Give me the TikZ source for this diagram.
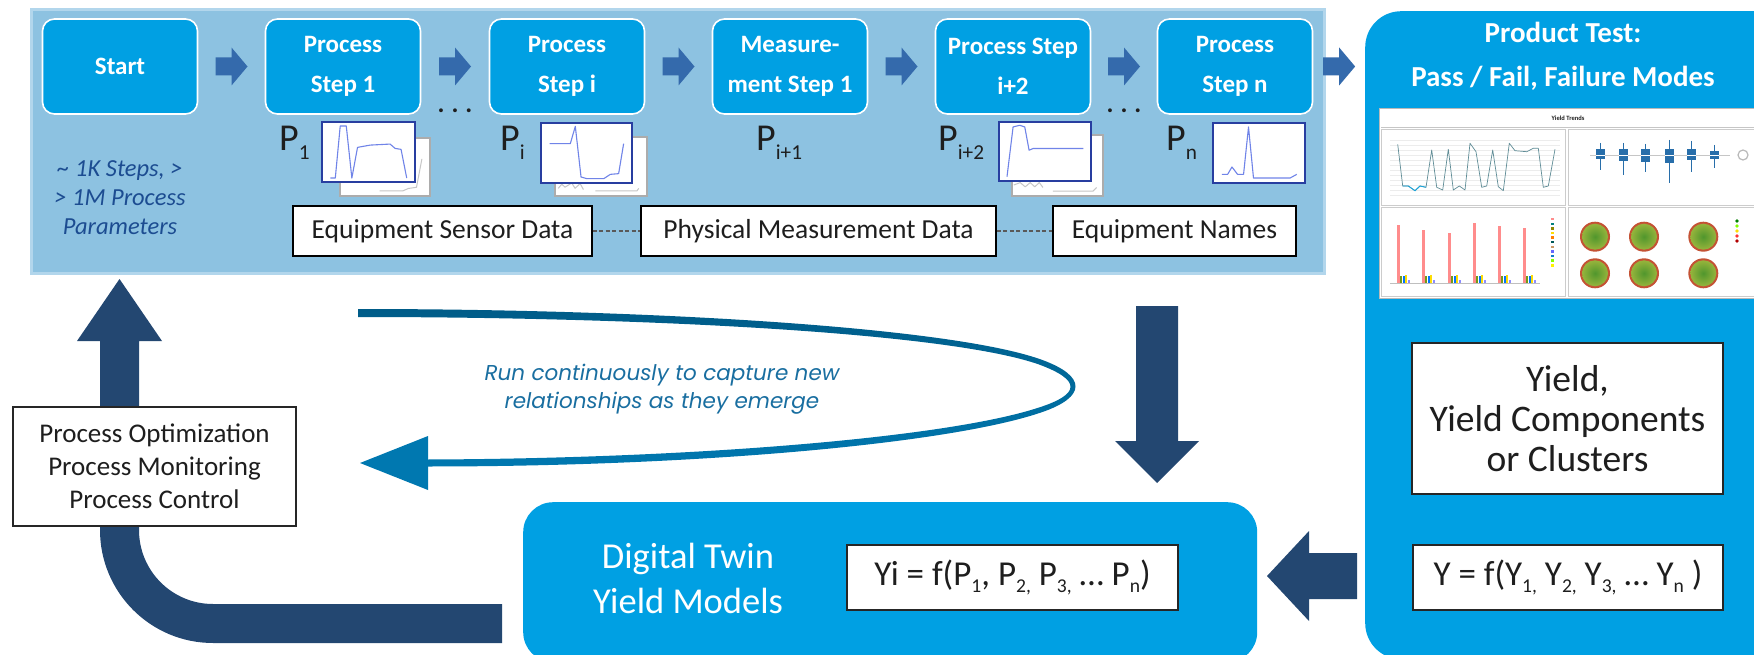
\documentclass[tikz,border=0pt]{standalone}
\usepackage{graphicx}
\usepackage{fontspec}
\setmainfont{Carlito}
\newfontfamily\loopfont{Poppins}
\usetikzlibrary{calc}

\definecolor{panelblue}{RGB}{141,194,225}
\definecolor{panelhalo}{RGB}{178,214,236}
\definecolor{stepblue}{RGB}{0,160,227}
\definecolor{arrowblue}{RGB}{52,106,172}
\definecolor{navy}{RGB}{35,71,113}
\definecolor{looptop}{RGB}{0,92,136}
\definecolor{loopbot}{RGB}{0,120,176}
\definecolor{noteblue}{RGB}{28,76,145}
\definecolor{looptext}{RGB}{25,110,160}
\definecolor{thumbedge}{RGB}{40,62,160}
\definecolor{thumbblue}{RGB}{112,132,232}
\definecolor{inkgray}{RGB}{30,30,30}
\definecolor{boxblue}{RGB}{40,110,170}
\definecolor{linegray}{RGB}{95,140,150}
\definecolor{waferrim}{RGB}{196,82,52}
\definecolor{wafercore}{RGB}{80,150,45}
\definecolor{waferedge}{RGB}{150,180,60}

\newcommand{\fsz}[2]{\fontsize{#1}{#2}\selectfont}
\newcommand{\lsub}[1]{\raisebox{-0.22em}{\scalebox{0.56}{#1}}}

\tikzset{
  stepbox/.style={draw=white, line width=1.6pt, fill=stepblue, rounded corners=12pt,
    minimum width=155pt, minimum height=95pt, inner sep=2pt, text=white, align=center,
    font=\fsz{25}{40}\bfseries},
  plabel/.style={anchor=base west, inner sep=0pt, text=inkgray, font=\fsz{38}{38}},
  thumbfront/.style={fill=white, draw=thumbedge, line width=1.6pt},
  thumbback/.style={fill=white, draw=gray!65, line width=1.4pt},
  thumbline/.style={draw=thumbblue, line width=1.1pt, line join=round},
  backline/.style={draw=gray!45, line width=1pt, line join=round},
  databox/.style={draw=black, line width=1.3pt, fill=white, minimum height=50pt,
    inner sep=0pt, font=\fsz{27.5}{30}, text=inkgray},
  wbox/.style={draw=black!85, line width=1.4pt, fill=white, align=center, inner sep=0pt,
    text=inkgray},
  dashlink/.style={draw=gray!70!black, dash pattern=on 4pt off 2.5pt, line width=1.2pt},
  bluepanel/.style={fill=stepblue, draw=none},
  rarrow/.pic={\fill[arrowblue] (-16,-9) -- (0,-9) -- (0,-19) -- (16,0) -- (0,19) -- (0,9) -- (-16,9) -- cycle;},
}

\begin{document}
\begin{tikzpicture}[x=1pt,y=-1pt]
\useasboundingbox (0,0) rectangle (1754,655);

% ---------- process flow panel ----------
\fill[panelhalo] (30,8) rectangle (1326,275);
\fill[panelblue] (33,11) rectangle (1323,272);

\node[stepbox] (s0) at (120,66.5) {Start};
\node[stepbox] (s1) at (343,66.5) {Process\\Step 1};
\node[stepbox] (s2) at (567,66.5) {Process\\Step i};
\node[stepbox] (s3) at (790,66.5) {Measure-\\ment Step 1};
\node[stepbox] (s4) at (1013,66.5) {Process Step\\i+2};
\node[stepbox] (s5) at (1235,66.5) {Process\\Step n};

\pic at ($(s0.east)!0.5!(s1.west)$) {rarrow};
\pic at ($(s1.east)!0.5!(s2.west)$) {rarrow};
\pic at ($(s2.east)!0.5!(s3.west)$) {rarrow};
\pic at ($(s3.east)!0.5!(s4.west)$) {rarrow};
\pic at ($(s4.east)!0.5!(s5.west)$) {rarrow};

\node[font=\fsz{26}{26}\bfseries, text=inkgray, inner sep=0pt] (dots1)
  at ($(s1.south east)!0.5!(s2.south west)+(0,-4)$) {.\hspace{7pt}.\hspace{7pt}.};
\node[font=\fsz{26}{26}\bfseries, text=inkgray, inner sep=0pt] (dots2)
  at ($(s4.south east)!0.5!(s5.south west)+(0,-4)$) {.\hspace{7pt}.\hspace{7pt}.};

\node[font=\fsz{24.5}{29}\itshape, text=noteblue, align=center] (scale) at (120,198)
  {\textasciitilde{} 1K Steps, >\\> 1M Process\\Parameters};

% parameter labels
\node[plabel] (p1) at (279,151) {P\lsub{1}};
\node[plabel] (pi) at (500,151) {P\lsub{i}};
\node[plabel] (pi1) at (756,151) {P\lsub{i+1}};
\node[plabel] (pi2) at (938,151) {P\lsub{i+2}};
\node[plabel] (pn) at (1166,151) {P\lsub{n}};

% sensor trace thumbnails
\draw[thumbback] (340,138) rectangle (430,196);
\begin{scope}[shift={(340,138)}, x=90pt, y=-58pt]
  \draw[backline] plot coordinates {(0.44,0.91) (0.70,0.91) (0.76,0.87) (0.85,0.85) (0.91,0.36)};
\end{scope}
\draw[thumbfront] (322,122) rectangle (415,182);
\begin{scope}[shift={(322,122)}, x=93pt, y=-60pt]
  \draw[thumbline] plot coordinates {(0.089,0.934) (0.143,0.934) (0.196,0.066) (0.261,0.066)
    (0.321,0.934) (0.382,0.423) (0.518,0.385) (0.732,0.368) (0.786,0.44) (0.85,0.456) (0.911,0.934)};
\end{scope}

\draw[thumbback] (555,137) rectangle (647,196);
\begin{scope}[shift={(555,137)}, x=92pt, y=-59pt]
  \draw[backline] plot coordinates {(0.036,0.87) (0.073,0.80) (0.109,0.85) (0.182,0.78)
    (0.218,0.87) (0.273,0.79) (0.309,0.89)};
  \draw[backline] plot coordinates {(0.44,0.915) (0.89,0.915) (0.91,0.87)};
\end{scope}
\draw[thumbfront] (541,123) rectangle (632,183);
\begin{scope}[shift={(541,123)}, x=91pt, y=-60pt]
  \draw[thumbline] plot coordinates {(0.095,0.344) (0.322,0.344) (0.377,0.056) (0.44,0.9)
    (0.505,0.928) (0.689,0.928) (0.762,0.856) (0.853,0.844) (0.908,0.344)};
\end{scope}

\draw[thumbback] (1012,135) rectangle (1103,196);
\begin{scope}[shift={(1012,135)}, x=91pt, y=-61pt]
  \draw[backline] plot coordinates {(0.02,0.82) (0.09,0.78) (0.145,0.85) (0.2,0.78)
    (0.25,0.85) (0.3,0.78) (0.34,0.86)};
  \draw[backline] plot coordinates {(0.45,0.92) (0.89,0.92) (0.93,0.86)};
\end{scope}
\draw[thumbfront] (999,122) rectangle (1091,181);
\begin{scope}[shift={(999,122)}, x=92pt, y=-59pt]
  \draw[thumbline] plot coordinates {(0.087,0.927) (0.153,0.084) (0.225,0.056) (0.28,0.084)
    (0.327,0.478) (0.371,0.449) (0.916,0.449)};
\end{scope}

\draw[thumbfront] (1213,123) rectangle (1305,183);
\begin{scope}[shift={(1213,123)}, x=92pt, y=-60pt]
  \draw[thumbline] plot coordinates {(0.097,0.856) (0.159,0.856) (0.206,0.733) (0.267,0.856)
    (0.332,0.856) (0.386,0.067) (0.44,0.917) (0.838,0.917) (0.91,0.856)};
\end{scope}

% data sources
\node[databox, minimum width=299pt] (esd) at (442.5,231) {Equipment Sensor Data};
\node[databox, minimum width=355pt] (pmd) at (818.5,231) {Physical Measurement Data};
\node[databox, minimum width=243pt] (eqn) at (1174.5,231) {Equipment Names};
\draw[dashlink] (esd.east) -- (pmd.west);
\draw[dashlink] (pmd.east) -- (eqn.west);

% ---------- product test ----------
\node[bluepanel, rounded corners=36pt, minimum width=440pt, minimum height=648pt,
  anchor=north west] (prod) at (1365,11) {};
\pic at ($(s5.east)!0.5!(prod.west |- s5.east)$) {rarrow};
\node[font=\fsz{29}{44}\bfseries, text=white, align=center] (prodtitle) at (1563,56)
  {Product Test:\\Pass / Fail, Failure Modes};

% yield dashboard
\fill[white] (1379,108) rectangle (1760,298);
\draw[gray!55, line width=0.9pt] (1379,108) rectangle (1760,298);
\draw[gray!45, line width=0.6pt] (1381,127.5) -- (1758,127.5);
\node[font=\fsz{6.5}{7}\bfseries, text=inkgray] (ytitle) at (1568,118.5) {Yield Trends};
\foreach \qa/\qb/\qc/\qd in {1381/129/1565/205, 1568/129/1758/205, 1381/207/1565/296, 1568/207/1758/296}
  \draw[gray!40, line width=0.8pt] (\qa,\qb) rectangle (\qc,\qd);
\foreach \gy in {140,145,...,195}
  \draw[gray!15, line width=0.3pt] (1390,\gy) -- (1560,\gy);
\draw[linegray, line width=0.7pt, line join=round] plot coordinates {(1397.7,144.3) (1402.7,186)
  (1408.3,186) (1415,190.7) (1420,186) (1426,187.3) (1431.7,150) (1436.7,187.3) (1442.7,190)
  (1448.3,149.3) (1453.3,190) (1459.3,186) (1465,190) (1470,143.3) (1476,151.7) (1481.7,187.3)
  (1486.7,186) (1492.7,150) (1498.3,186.7) (1503.3,190.7) (1509.3,143.3) (1515,150.7)
  (1526.7,151.7) (1533.3,148.3) (1538.3,148.3) (1543.3,187.3) (1548.3,186) (1555,149.3)};
\draw[cyan!80!teal, line width=0.9pt] plot coordinates {(1402.7,186) (1408.3,186) (1415,190.7) (1420,186) (1426,187.3)};
\draw[gray!45, line width=0.5pt] (1590,155) -- (1730,155);
\foreach \bx/\lo/\hi/\wl/\wh in {1600.7/149/159/143/170, 1623.3/149/161/143/175,
  1645.7/149/162/144/172, 1669/149/163/140/183, 1691.7/149/160/141/172, 1714.3/151/159/145/168} {
  \draw[boxblue, line width=0.8pt] (\bx,\wl) -- (\bx,\wh);
  \fill[boxblue] (\bx-4.5,\lo) rectangle (\bx+4.5,\hi);
  \draw[white, line width=0.4pt] (\bx-4.5,155) -- (\bx+4.5,155);
}
\draw[gray!55, line width=1.2pt] (1743,155) circle (5pt);
\draw[gray!50, line width=0.4pt] (1390,283) -- (1540,283);
\foreach \gx/\rh in {1398.3/225, 1423.3/230, 1449/233.3, 1474/222.7, 1499.3/226, 1524/227.7} {
  \fill[red!45] (\gx-1.5,\rh) rectangle (\gx+1.5,283);
  \fill[olive!60!green] (\gx+2,276) rectangle (\gx+4,283);
  \fill[blue!55!cyan] (\gx+4.5,276) rectangle (\gx+6.5,283);
  \fill[yellow!80!orange] (\gx+7,275) rectangle (\gx+9,283);
  \fill[blue!45] (\gx+9.5,280) rectangle (\gx+11.5,283);
}
\foreach \i/\c in {0/red!45,1/teal,2/olive,3/yellow!80!orange,4/orange,5/teal!70!black,
  6/brown!80,7/blue!60,8/cyan!60!blue,9/lime!70!green,10/yellow}
  \fill[\c] (1551,{218+4.6*\i}) rectangle (1554,{220.5+4.6*\i});
\foreach \wx/\wy in {1595/236.7, 1644/236.7, 1703.3/236.7, 1595/273.3, 1644/273.3, 1703.3/273.3} {
  \fill[waferrim] (\wx,\wy) circle (15pt);
  \shade[inner color=wafercore, outer color=waferedge] (\wx,\wy) circle (13pt);
}
\foreach \i/\c in {0/green!50!black,1/lime!70!green,2/yellow!80!orange,3/red!80,4/red!70!black}
  \fill[\c] (1737,{221+5*\i}) circle (1.8pt);

% yield outputs
\node[wbox, minimum width=311pt, minimum height=151pt, font=\fsz{37.5}{40}] (yield) at (1567.5,418.5)
  {Yield,\\Yield Components\\or Clusters};
\node[wbox, minimum width=310pt, minimum height=65pt, font=\fsz{35}{38}] (yfun) at (1568,577.5)
  {Y = f(Y\lsub{1,} Y\lsub{2,} Y\lsub{3,} \ldots{} Y\lsub{n} )};

% ---------- digital twin ----------
\node[bluepanel, rounded corners=30pt, minimum width=734pt, minimum height=160pt,
  anchor=north west] (twin) at (523,502) {};
\node[font=\fsz{36.5}{45}, text=white, align=center] (twinlbl) at (688,578)
  {Digital Twin\\Yield Models};
\node[wbox, minimum width=331pt, minimum height=65pt, font=\fsz{35}{38}] (pfun) at (1012.5,577.5)
  {Yi = f(P\lsub{1}, P\lsub{2,} P\lsub{3,}\ \ldots{} P\lsub{n})};

% product test feeds the models
\coordinate (lbase) at (1309,576);
\fill[navy] (prod.west |- lbase) ++(-8,-23) -- (lbase) ++(0,-23) -- (1309,531) -- (1267,576)
  -- (1309,621) -- (1309,599) -- (1357,599) -- (1357,553) -- cycle;

% process data feeds the models
\coordinate (dtop) at (1157,306);
\coordinate (dtip) at (1157,483);
\fill[navy] (1136,306) -- (1178,306) -- (1178,441) -- (1199,441) -- (dtip) -- (1115,441)
  -- (1136,441) -- cycle;

% continuous loop
\shade[top color=looptop, bottom color=loopbot]
  (358,309) .. controls (650,309) and (950,327) .. (1041,359.5)
  .. controls (1087,376) and (1087,397) .. (1041,412.5)
  .. controls (950,443.5) and (700,466.5) .. (428,466.5)
  -- (428,459.5) .. controls (700,458.5) and (950,437) .. (1039,407.5)
  .. controls (1081,394) and (1081,380) .. (1039,364.5)
  .. controls (950,333) and (650,317) .. (358,317) -- cycle;
\coordinate (looptip) at (360,463);
\fill[loopbot] (looptip) -- (428,436) -- (428,490) -- cycle;
\node[font=\fsz{21.5}{28}\loopfont\itshape, text=looptext, align=center] (runlbl) at (662,389)
  {Run continuously to capture new\\relationships as they emerge};

% ---------- feedback to the process ----------
\fill[navy] (502,604) -- (213,604) .. controls (172.1,604) and (139,570.9) .. (139,530)
  -- (139,341) -- (162,341) -- (119.5,279) -- (77,341) -- (100,341) -- (100,530)
  .. controls (100,592.4) and (150.6,643) .. (213,643) -- (502,643) -- cycle;
\node[wbox, minimum width=283pt, minimum height=119pt, font=\fsz{27}{33}] (ctrl) at (154.5,466.5)
  {Process Optimization\\Process Monitoring\\Process Control};

\end{tikzpicture}
\end{document}
